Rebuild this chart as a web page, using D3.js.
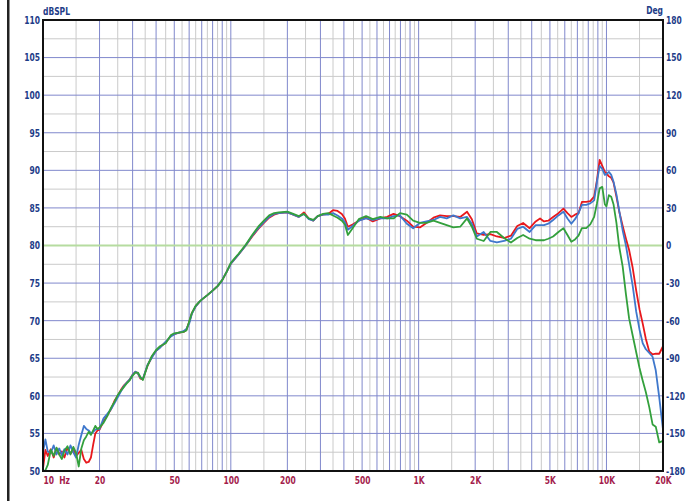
<!DOCTYPE html>
<html>
<head>
<meta charset="utf-8">
<script src="https://cdn.jsdelivr.net/npm/d3@7"></script>
<style>
  body { margin: 0; background: #fff; }
  svg { display: block; }
  .lbl { font-family: "Liberation Sans Narrow", "DejaVu Sans Condensed", "Arial Narrow", sans-serif; font-weight: bold; font-size: 10.5px; }
</style>
</head>
<body>
<svg id="chart" width="698" height="501"></svg>
<script>
// frequency points (Hz), shared by the three traces
var freqs = [10, 10.3, 10.6, 11, 11.4, 11.8, 12.2, 12.6, 13, 13.5, 14, 14.5, 15, 15.5, 16, 16.5, 17, 17.5, 18, 18.5, 19, 19.5,
  20, 21, 22, 23, 24, 25, 26, 27, 28, 29, 30, 31, 32, 33, 34, 36, 38, 40, 42, 45, 48, 50, 53, 56, 58, 60, 62, 65, 68, 70,
  75, 80, 85, 90, 95, 100, 110, 120, 130, 140, 150, 160, 170, 180,
  200, 215, 230, 245, 260, 275, 290, 310, 330, 350, 370, 390, 405, 420, 445, 480, 525, 570, 625, 680, 735, 795, 865, 935,
  1015, 1100, 1200, 1300, 1410, 1530, 1665, 1810, 1920, 2040, 2220, 2410, 2610,
  2850, 3100, 3350, 3600, 3900, 4200,
  4430, 4650, 4900, 5200, 5550, 5900, 6200, 6500, 6800, 7100, 7400, 7800, 8200, 8600, 8900, 9200, 9500, 9800, 10000,
  10300, 10600, 10900, 11300, 11700, 12200, 12700, 13200, 13800, 14400, 15000, 15600, 16200, 16900, 17600, 18300, 19100, 20000];

var redDb = [50.3, 52.8, 52.0, 52.9, 51.8, 53.0, 52.2, 52.6, 51.8, 53.1, 52.3, 52.8, 52.0, 52.4, 52.8, 51.6, 51.1, 51.2, 51.8, 53.5, 55.0, 55.4,
  55.5, 56.6, 57.4, 58.2, 59.3, 60.0, 60.8, 61.4, 61.8, 62.2, 62.8, 63.2, 63.0, 62.3, 62.2, 64.0, 65.2, 66.0, 66.5, 67.1, 68.0, 68.2, 68.4, 68.5, 68.8, 69.8, 71.0, 71.9, 72.5, 72.8,
  73.4, 74.0, 74.6, 75.4, 76.5, 77.6, 78.8, 80.0, 81.2, 82.2, 83.0, 83.7, 84.1, 84.3,
  84.4, 84.1, 83.8, 84.4, 83.6, 83.3, 83.9, 84.1, 84.2, 84.7, 84.6, 84.2, 83.6, 82.5, 82.8, 83.3, 83.7, 83.2, 83.6, 83.8, 84.2, 83.9, 83.3, 82.5,
  82.4, 83.0, 83.7, 84.0, 83.9, 83.9, 83.8, 84.5, 83.5, 81.6, 81.4, 81.5, 81.2,
  81.0, 81.3, 82.6, 83.0, 82.3, 83.2,
  83.6, 83.2, 83.3, 83.8, 84.3, 84.9, 84.3, 83.8, 84.1, 84.3, 85.8, 85.8, 85.9, 86.5, 88.7, 91.4, 90.6, 89.8, 89.6,
  89.2, 89.0, 88.4, 86.5, 84.5, 82.6, 80.9, 79.4, 77.0, 74.0, 71.5, 69.6, 67.6, 65.9, 65.5, 65.6, 65.6, 66.6];

var blueDb = [52.5, 54.2, 52.6, 52.4, 53.4, 52.2, 53.0, 52.1, 52.9, 52.2, 53.4, 52.5, 51.8, 53.5, 54.8, 56.0, 55.6, 55.4, 55.0, 55.2, 55.5, 55.6,
  55.6, 57.0, 57.6, 58.2, 59.0, 59.8, 60.6, 61.3, 61.8, 62.2, 62.8, 63.2, 63.0, 62.4, 62.2, 64.1, 65.1, 66.0, 66.4, 67.2, 67.9, 68.2, 68.4, 68.6, 68.9, 69.6, 70.9, 71.9, 72.5, 72.8,
  73.4, 74.0, 74.6, 75.4, 76.5, 77.6, 78.8, 80.0, 81.3, 82.3, 83.1, 83.8, 84.2, 84.3,
  84.4, 84.1, 83.8, 84.2, 83.5, 83.3, 83.9, 84.1, 84.1, 84.3, 84.0, 83.6, 83.1, 82.1, 82.6, 83.3, 83.6, 83.4, 83.6, 83.6, 83.9, 84.0, 82.9, 82.3,
  83.0, 83.2, 83.4, 83.8, 83.6, 84.0, 83.6, 83.8, 82.9, 81.2, 81.8, 80.6, 80.4,
  80.6, 80.9, 82.2, 82.5, 81.8, 82.7,
  82.7, 82.7, 82.9, 83.4, 84.0, 84.5, 83.6, 82.9, 83.5, 84.3, 85.4, 85.4, 85.6, 86.0, 88.5, 90.6, 90.2, 89.4, 89.5,
  89.8, 89.4, 88.5, 86.8, 84.6, 82.0, 80.0, 77.5, 74.6, 71.2, 68.8, 67.0, 66.2, 65.7, 65.2, 63.4, 59.8, 55.5];

var greenDb = [50.0, 50.1, 50.8, 52.8, 52.0, 53.1, 52.2, 51.6, 52.7, 53.3, 52.2, 53.2, 52.4, 50.6, 53.0, 54.1, 54.6, 55.2, 54.8, 55.4, 56.0, 55.6,
  55.8, 56.4, 57.3, 58.4, 59.2, 60.1, 60.7, 61.2, 61.7, 62.1, 62.7, 63.1, 63.1, 62.5, 62.1, 64.0, 65.3, 66.1, 66.6, 67.0, 68.1, 68.3, 68.4, 68.5, 68.7, 69.9, 71.0, 72.0, 72.5, 72.8,
  73.4, 74.0, 74.6, 75.4, 76.5, 77.7, 78.9, 80.1, 81.4, 82.5, 83.3, 84.0, 84.3, 84.4,
  84.5, 84.2, 83.9, 84.2, 83.6, 83.4, 83.9, 84.2, 84.3, 84.0, 83.7, 83.3, 82.8, 81.4, 82.3, 83.5, 83.9, 83.5, 83.8, 83.6, 83.6, 84.3, 84.1, 83.3,
  83.0, 83.0, 83.3, 83.0, 82.7, 82.4, 82.5, 83.6, 82.5, 80.9, 80.6, 81.8, 81.8,
  81.0, 80.4, 81.0, 81.4, 80.9, 80.7,
  80.7, 80.7, 80.9, 81.2, 81.8, 82.3, 81.4, 80.5, 80.8, 81.3, 82.3, 82.3, 82.8, 83.8, 85.6, 87.6, 87.8, 85.5, 85.2,
  86.7, 86.5, 85.5, 83.0, 79.8, 77.2, 73.5, 70.3, 68.0, 65.8, 63.7, 62.0, 60.5, 58.5, 56.2, 55.9, 53.8, 54.0];

var yTicks = [50, 55, 60, 65, 70, 75, 80, 85, 90, 95, 100, 105, 110];
var degLabels = ["-180", "-150", "-120", "-90", "-60", "-30", "0", "30", "60", "90", "120", "150", "180"];
var xTicks = [10, 20, 50, 100, 200, 500, 1000, 2000, 5000, 10000, 20000];
var xLabels = ["10  Hz", "20", "50", "100", "200", "500", "1K", "2K", "5K", "10K", "20K"];

var svg = d3.select("#chart");
var plotLeft = 43, plotRight = 663, plotTop = 20, plotBottom = 471;

var xScale = d3.scaleLog().domain([10, 20000]).range([plotLeft, plotRight]);
var yScale = d3.scaleLinear().domain([50, 110]).range([plotBottom, plotTop]);

svg.append("rect").attr("width", 698).attr("height", 501).attr("fill", "#fff");

// dark bar on the far left
svg.append("rect")
  .attr("x", 7).attr("y", 0).attr("width", 2.5).attr("height", 501)
  .attr("fill", "#222");

// grid lines: gray at half steps, blue at whole steps
var xMinor = [], xMajor = [];
[10, 100, 1000, 10000].forEach(function(dec){
  for(var k = 1; k <= 9; k++){
    if(dec*(k+0.5) < 20000) xMinor.push(dec*(k+0.5));
    if(k > 1 && dec*k < 20000) xMajor.push(dec*k);
  }
  if(dec > 10) xMajor.push(dec);
});
var yMinor = d3.range(52.5, 110, 5);
var yMajor = d3.range(55, 110, 5).filter(function(d){ return d != 80; });

var grid = svg.append("g");
grid.selectAll(".xminor").data(xMinor).enter().append("line")
  .attr("x1", xScale).attr("x2", xScale).attr("y1", plotTop).attr("y2", plotBottom)
  .attr("stroke", "#cacaca").attr("stroke-width", 1);
grid.selectAll(".yminor").data(yMinor).enter().append("line")
  .attr("x1", plotLeft).attr("x2", plotRight).attr("y1", yScale).attr("y2", yScale)
  .attr("stroke", "#cacaca").attr("stroke-width", 1);
grid.selectAll(".xmajor").data(xMajor).enter().append("line")
  .attr("x1", xScale).attr("x2", xScale).attr("y1", plotTop).attr("y2", plotBottom)
  .attr("stroke", "#8088cc").attr("stroke-width", 1);
grid.selectAll(".ymajor").data(yMajor).enter().append("line")
  .attr("x1", plotLeft).attr("x2", plotRight).attr("y1", yScale).attr("y2", yScale)
  .attr("stroke", "#8088cc").attr("stroke-width", 1);

// zero degree line
svg.append("line")
  .attr("x1", plotLeft).attr("x2", plotRight)
  .attr("y1", yScale(80)).attr("y2", yScale(80))
  .attr("stroke", "#b6dca0").attr("stroke-width", 2);

// traces
var line = d3.line()
  .x(function(d){ return xScale(d[0]); })
  .y(function(d){ return yScale(d[1]); });

var series = [
  {vals: redDb, color: "#e8181c"},
  {vals: blueDb, color: "#3f78cc"},
  {vals: greenDb, color: "#33a03c"}
];
series.forEach(function(s){
  svg.append("path")
    .datum(freqs.map(function(f, i){ return [f, s.vals[i]]; }))
    .attr("d", line)
    .attr("fill", "none")
    .attr("stroke", s.color)
    .attr("stroke-width", 1.8)
    .attr("stroke-linejoin", "round");
});

// frame
svg.append("rect")
  .attr("x", plotLeft).attr("y", plotTop)
  .attr("width", plotRight - plotLeft).attr("height", plotBottom - plotTop)
  .attr("fill", "none").attr("stroke", "#111").attr("stroke-width", 2);

// left axis (dB)
var yAxis = d3.axisLeft(yScale).tickValues(yTicks).tickSize(0).tickPadding(3);
var gy = svg.append("g").attr("transform", "translate(" + plotLeft + ",0)").call(yAxis);
gy.select(".domain").remove();
gy.selectAll("text").attr("class", "lbl").attr("fill", "#1e3c88");

// right axis (degrees)
var degScale = d3.scaleLinear().domain([-180, 180]).range([plotBottom, plotTop]);
var rAxis = d3.axisRight(degScale).tickValues(d3.range(-180, 181, 30))
  .tickFormat(function(d, i){ return degLabels[i]; }).tickSize(0).tickPadding(3);
var gr = svg.append("g").attr("transform", "translate(" + plotRight + ",0)").call(rAxis);
gr.select(".domain").remove();
gr.selectAll("text").attr("class", "lbl").attr("fill", "#1e3c88");

// bottom axis (frequency)
var xAxis = d3.axisBottom(xScale).tickValues(xTicks)
  .tickFormat(function(d, i){ return xLabels[i]; }).tickSize(0).tickPadding(6);
var gx = svg.append("g").attr("transform", "translate(0," + plotBottom + ")").call(xAxis);
gx.select(".domain").remove();
gx.selectAll("text").attr("class", "lbl").attr("fill", "#a41c4c").attr("xml:space", "preserve");
gx.selectAll("text").filter(function(d){ return d == 10; })
  .attr("text-anchor", "start").attr("x", 0);

// unit labels
svg.append("text").attr("class", "lbl")
  .attr("x", plotLeft).attr("y", 15)
  .attr("fill", "#1e3c88")
  .text("dBSPL");
svg.append("text").attr("class", "lbl")
  .attr("x", plotRight).attr("y", 14)
  .attr("text-anchor", "end")
  .attr("fill", "#1e3c88")
  .text("Deg");

// squeeze the labels a little, the original uses a narrow face
svg.selectAll("text.lbl").each(function(){
  var len = this.getComputedTextLength();
  d3.select(this).attr("textLength", len * 0.8).attr("lengthAdjust", "spacingAndGlyphs");
});
</script>
</body>
</html>
